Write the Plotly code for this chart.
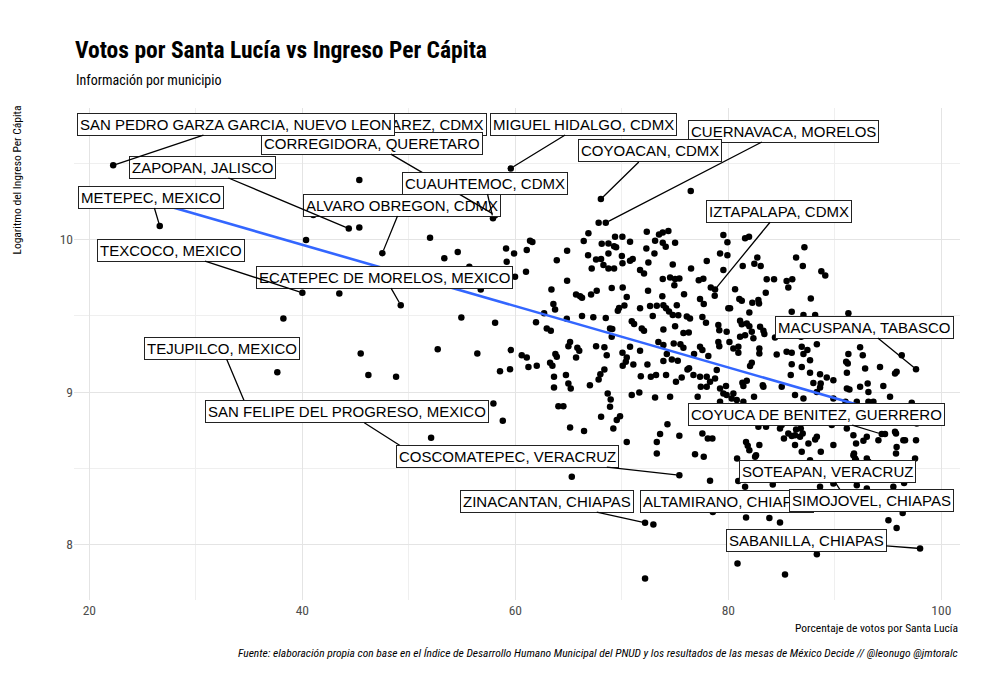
import plotly.graph_objects as go

# ---------------- data ----------------
# percentage of votes for Santa Lucía (x) and log of per-capita income (y)
labeled_names = [
    "BENITO JUAREZ, CDMX", "ALVARO OBREGON, CDMX", "ECATEPEC DE MORELOS, MEXICO",
    "CORREGIDORA, QUERETARO", "CUAUHTEMOC, CDMX", "ZAPOPAN, JALISCO",
    "SAN PEDRO GARZA GARCIA, NUEVO LEON", "MIGUEL HIDALGO, CDMX", "CUERNAVACA, MORELOS",
    "COYOACAN, CDMX", "METEPEC, MEXICO", "IZTAPALAPA, CDMX", "TEXCOCO, MEXICO",
    "MACUSPANA, TABASCO", "TEJUPILCO, MEXICO", "SAN FELIPE DEL PROGRESO, MEXICO",
    "COSCOMATEPEC, VERACRUZ", "COYUCA DE BENITEZ, GUERRERO", "ZINACANTAN, CHIAPAS",
    "ALTAMIRANO, CHIAPAS", "SOTEAPAN, VERACRUZ", "SIMOJOVEL, CHIAPAS", "SABANILLA, CHIAPAS",
]
labeled_votes = [49.2, 47.51, 49.24, 58.1, 57.9, 44.36, 22.24, 59.57, 68.49, 68.03, 26.61,
                 78.75, 40.0, 97.62, 34.91, 50.58, 75.4, 94.4, 72.18, 78.54, 90.94, 94.7, 98.0]
labeled_income = [10.716, 9.911, 9.570, 10.16, 10.14, 10.073, 10.487, 10.467, 10.110, 10.266,
                  10.089, 9.673, 9.651, 9.150, 8.881, 8.586, 8.455, 8.724, 8.142, 8.214, 8.311,
                  8.258, 7.974]

other_votes = [
    45.35, 45.35, 41.03, 40.35, 51.99, 53.33, 54.59, 59.13, 59.88, 59.19, 59.97, 56.75, 55.68,
    43.47, 38.22, 54.93, 58.1, 45.48, 52.71, 56.43, 59.57, 37.65, 46.2, 48.8, 58.56, 59.5,
    57.94, 58.82, 52.09, 76.47, 67.82, 66.86, 66.42, 61.38, 61.6, 61.07, 61.0, 64.86, 63.89,
    64.86, 66.83, 68.11, 68.74, 69.27, 69.46, 69.36, 70.05, 70.77, 72.34, 73.49, 73.84, 74.37,
    73.12, 73.84, 74.12, 75.0, 72.3, 73.06, 68.74, 67.58, 68.05, 70.0, 70.77, 71.02, 70.06,
    68.27, 68.74, 69.27, 67.17, 72.49, 71.71, 72.08, 74.78, 76.5, 77.97, 79.53, 79.91, 79.22,
    79.91, 79.53, 63.39, 63.57, 63.73, 62.7, 65.7, 66.08, 66.26, 67.11, 67.64, 69.05, 70.08,
    70.46, 70.24, 69.74, 69.62, 72.46, 73.8, 71.71, 72.65, 73.28, 73.9, 74.15, 74.43, 74.78,
    75.3, 75.16, 72.9, 73.84, 74.53, 75.0, 75.4, 74.93, 75.84, 77.34, 77.69, 77.22, 77.65,
    78.35, 78.72, 80.0, 76.1, 76.4, 77.56, 77.9, 76.28, 66.26, 67.32, 68.49, 64.83, 61.94,
    62.95, 63.33, 68.89, 69.1, 69.05, 70.93, 71.15, 71.87, 72.08, 73.9, 75.0, 75.78, 79.06,
    79.15, 79.84, 74.87, 75.5, 73.9, 73.43, 75.78, 77.34, 77.56, 79.06, 79.15, 76.78, 78.12,
    74.22, 74.69, 73.9, 71.71, 70.77, 70.06, 70.46, 70.37, 71.08, 68.58, 68.36, 67.58, 65.14,
    64.98, 65.82, 66.0, 63.76, 63.89, 63.26, 63.48, 65.7, 60.6, 61.07, 62.01, 61.23, 70.08,
    72.4, 75.25, 76.31, 81.57, 81.94, 81.35, 82.44, 82.72, 83.04, 87.14, 86.36, 86.99, 88.73,
    89.1, 83.6, 84.29, 85.47, 86.0, 85.63, 80.63, 83.51, 87.74, 81.03, 81.26, 82.25, 82.82,
    82.88, 80.16, 81.97, 85.95, 81.1, 81.26, 81.73, 81.97, 82.98, 83.29, 83.38, 87.05, 88.15,
    86.83, 91.27, 81.1, 81.57, 82.2, 80.1, 80.47, 80.94, 80.94, 82.35, 82.91, 82.91, 84.38,
    88.31, 86.89, 87.42, 87.05, 85.47, 85.95, 84.54, 87.67, 85.95, 86.89, 82.2, 82.04, 92.37,
    92.62, 91.27, 91.06, 91.21, 96.28, 94.24, 92.84, 97.62, 91.13, 95.65, 95.8, 93.08, 92.37,
    91.13, 91.37, 94.55, 95.18, 97.22, 97.69, 97.62, 97.53, 95.65, 95.74, 96.43, 96.59, 95.8,
    95.74, 94.71, 94.09, 93.0, 92.68, 91.99, 91.74, 91.12, 89.71, 89.86, 88.68, 91.8, 91.9,
    88.31, 88.15, 87.52, 86.89, 86.26, 85.63, 85.95, 86.26, 86.73, 86.98, 86.8, 86.36, 85.22,
    84.85, 85.01, 82.82, 83.54, 81.66, 81.82, 81.97, 82.91, 82.6, 82.51, 80.82, 77.56, 78.07,
    78.5, 76.87, 77.69, 75.4, 74.28, 73.59, 73.28, 73.28, 70.46, 65.14, 66.45, 69.2, 69.52,
    69.83, 68.05, 68.89, 68.95, 68.67, 64.04, 64.51, 65.3, 67.82, 67.98, 68.36, 67.0, 64.98,
    65.2, 63.63, 63.63, 64.75, 71.78, 72.72, 73.21, 74.15, 73.12, 74.53, 70.93, 76.16, 76.72,
    77.34, 77.97, 78.75, 77.12, 79.22, 79.78, 80.47, 80.31, 81.41, 81.73, 81.32, 82.41, 83.29,
    83.23, 80.79, 81.41, 85.01, 85.86, 86.26, 87.05, 87.98, 88.61, 88.67, 89.86, 75.08, 75.62,
    78.28, 78.91, 71.64, 77.41, 77.97, 79.22, 79.53, 79.84, 78.28, 72.96, 80.93, 81.57, 84.17,
    87.67, 88.61, 89.86, 91.74, 91.99, 93.0, 93.15, 92.06, 93.0, 95.49, 96.5, 95.03, 95.8,
    96.37, 88.31, 81.66, 83.85, 84.85, 80.86, 85.32, 72.18, 87.67, 88.61, 89.24, 89.86, 88.31,
    93.15, 92.06, 93.15, 93.62, 91.0,
]
other_income = [
    10.080, 10.39, 10.161, 9.997, 10.012, 9.877, 9.918, 9.942, 9.909, 9.854, 9.756, 9.673, 9.822,
    9.647, 9.483, 9.489, 9.454, 9.253, 9.280, 9.253, 9.275, 9.129, 9.111, 9.100, 9.137, 9.150,
    8.925, 8.811, 8.700, 10.318, 10.110, 10.041, 9.990, 9.992, 9.984, 9.931, 9.789, 9.927, 9.865,
    9.730, 9.898, 9.972, 9.975, 9.957, 9.949, 10.018, 10.018, 9.986, 10.051, 10.034, 10.047, 10.056,
    9.992, 9.979, 9.953, 9.979, 9.942, 9.909, 9.909, 9.870, 9.872, 9.892, 9.861, 9.872, 9.844,
    9.833, 9.811, 9.811, 9.811, 9.850, 9.800, 9.778, 9.837, 9.811, 9.859, 10.030, 9.982, 9.909,
    9.898, 9.800, 9.673, 9.577, 9.542, 9.516, 9.640, 9.629, 9.618, 9.640, 9.664, 9.682, 9.686,
    9.623, 9.568, 9.551, 9.533, 9.664, 9.629, 9.549, 9.564, 9.566, 9.570, 9.549, 9.529, 9.505,
    9.503, 9.570, 9.498, 9.741, 9.752, 9.741, 9.745, 9.701, 9.642, 9.610, 9.577, 9.734, 9.743,
    9.686, 9.631, 9.549, 9.496, 9.483, 9.493, 9.454, 9.391, 9.498, 9.491, 9.485, 9.480, 9.457,
    9.417, 9.402, 9.417, 9.413, 9.363, 9.465, 9.446, 9.417, 9.402, 9.411, 9.432, 9.388, 9.439,
    9.406, 9.395, 9.319, 9.314, 9.308, 9.329, 9.290, 9.297, 9.275, 9.329, 9.301, 9.249, 9.236,
    9.249, 9.214, 9.203, 9.270, 9.297, 9.257, 9.227, 9.198, 9.181, 9.242, 9.293, 9.301, 9.329,
    9.301, 9.290, 9.270, 9.249, 9.231, 9.192, 9.172, 9.227, 9.242, 9.227, 9.172, 9.165, 9.172,
    9.181, 9.205, 9.156, 10.008, 10.018, 9.826, 9.841, 9.883, 9.826, 9.949, 9.883, 9.826, 9.793,
    9.765, 9.739, 9.739, 9.728, 9.739, 9.686, 9.675, 9.651, 9.614, 9.610, 9.598, 9.585, 9.603,
    9.581, 9.549, 9.522, 9.526, 9.467, 9.444, 9.450, 9.432, 9.428, 9.402, 9.380, 9.505, 9.505,
    9.363, 9.516, 9.363, 9.373, 9.395, 9.329, 9.286, 9.297, 9.257, 9.352, 9.286, 9.253, 9.358,
    9.314, 9.297, 9.275, 9.249, 9.264, 9.257, 9.247, 9.209, 9.183, 9.165, 9.192, 9.170, 9.293,
    9.242, 9.249, 9.198, 9.188, 9.242, 9.165, 9.155, 9.373, 9.126, 9.122, 9.133, 9.056, 9.034,
    9.024, 9.017, 9.039, 8.969, 8.930, 8.794, 8.684, 8.564, 8.739, 8.728, 8.684, 8.684, 8.640,
    8.597, 8.724, 8.684, 8.706, 8.680, 8.663, 8.717, 8.761, 8.783, 8.652, 8.608, 8.597, 8.564,
    8.706, 8.689, 8.663, 8.608, 8.652, 8.728, 8.711, 8.717, 8.706, 8.728, 8.761, 8.754, 8.696,
    8.761, 8.783, 8.772, 8.772, 8.673, 8.647, 8.619, 8.652, 8.586, 8.575, 8.564, 8.728, 8.696,
    8.696, 8.592, 8.575, 8.713, 8.789, 8.724, 8.673, 8.597, 8.673, 8.768, 8.745, 8.761, 8.816,
    8.842, 8.838, 8.903, 8.951, 8.991, 8.907, 8.907, 8.444, 9.083, 9.117, 9.148, 9.045, 9.056,
    9.024, 9.030, 9.100, 9.111, 9.104, 9.100, 9.111, 9.111, 8.965, 8.969, 8.980, 9.148, 9.111,
    9.100, 9.100, 9.089, 8.969, 9.024, 9.039, 8.991, 8.958, 9.039, 9.074, 9.061, 8.969, 9.034,
    9.045, 8.947, 8.936, 9.034, 9.111, 8.980, 8.958, 9.060, 9.030, 9.056, 8.958, 9.067, 9.096,
    9.067, 9.144, 8.997, 9.034, 9.034, 8.936, 8.991, 8.980, 8.418, 8.131, 8.417, 8.378, 8.394,
    8.553, 8.378, 8.400, 8.586, 8.553, 8.564, 8.542, 8.389, 8.367, 8.378, 8.404, 8.159, 8.109,
    8.207, 7.936, 8.177, 8.174, 8.144, 7.875, 7.803, 7.777, 9.126, 9.117, 9.096, 9.078, 9.000,
    9.001, 8.936, 8.936, 8.936, 8.936,
]

# linear trend (geom_smooth lm) at the ends of the data range
trend_votes = [22.24, 98.0]
trend_income = [10.323, 8.799]

x_ticks = [20, 40, 60, 80, 100]
y_ticks = [8, 9, 10]

title = "Votos por Santa Lucía vs Ingreso Per Cápita"
subtitle = "Información por municipio"
x_title = "Porcentaje de votos por Santa Lucía"
y_title = "Logaritmo del Ingreso Per Cápita"
caption = ("Fuente: elaboración propia con base en el Índice de Desarrollo Humano Municipal "
           "del PNUD y los resultados de las mesas de México Decide // @leonugo @jmtoralc")

# label box positions (data coordinates of the label centres) and whether a segment is drawn
label_pos = {
    "BENITO JUAREZ, CDMX": (49.0, 10.758, False),
    "ALVARO OBREGON, CDMX": (49.36, 10.226, True),
    "ECATEPEC DE MORELOS, MEXICO": (47.74, 9.754, True),
    "CORREGIDORA, QUERETARO": (46.55, 10.633, True),
    "CUAUHTEMOC, CDMX": (57.15, 10.371, True),
    "ZAPOPAN, JALISCO": (30.6, 10.476, True),
    "SAN PEDRO GARZA GARCIA, NUEVO LEON": (33.79, 10.758, True),
    "MIGUEL HIDALGO, CDMX": (66.36, 10.758, True),
    "CUERNAVACA, MORELOS": (85.14, 10.712, True),
    "COYOACAN, CDMX": (72.65, 10.581, True),
    "METEPEC, MEXICO": (25.8, 10.279, True),
    "IZTAPALAPA, CDMX": (84.76, 10.186, True),
    "TEXCOCO, MEXICO": (27.69, 9.931, True),
    "MACUSPANA, TABASCO": (92.76, 9.426, True),
    "TEJUPILCO, MEXICO": (32.46, 9.288, True),
    "SAN FELIPE DEL PROGRESO, MEXICO": (44.2, 8.871, True),
    "COSCOMATEPEC, VERACRUZ": (59.3, 8.580, True),
    "COYUCA DE BENITEZ, GUERRERO": (88.23, 8.855, True),
    "ZINACANTAN, CHIAPAS": (62.96, 8.284, True),
    "ALTAMIRANO, CHIAPAS": (79.9, 8.284, False),
    "SOTEAPAN, VERACRUZ": (89.34, 8.481, True),
    "SIMOJOVEL, CHIAPAS": (93.48, 8.291, False),
    "SABANILLA, CHIAPAS": (87.29, 8.029, True),
}

# ---------------- figure ----------------
COND = "Liberation Sans Narrow, Roboto Condensed, Arial Narrow, Liberation Sans, sans-serif"
LAB = "Liberation Sans, Arial, Helvetica, sans-serif"

fig = go.Figure()
fig.add_trace(go.Scatter(
    x=other_votes + labeled_votes, y=other_income + labeled_income,
    mode="markers", marker=dict(color="black", size=6.5, line=dict(width=0)),
    hoverinfo="x+y", showlegend=False))
fig.add_trace(go.Scatter(
    x=trend_votes, y=trend_income, mode="lines",
    line=dict(color="#3366FF", width=2.6), showlegend=False, hoverinfo="skip"))

annotations = []
for name, vx, vy in zip(labeled_names, labeled_votes, labeled_income):
    lx, ly, arrow = label_pos[name]
    common = dict(text=name, font=dict(family=LAB, size=15, color="black"),
                  bgcolor="white", bordercolor="#222222", borderwidth=1, borderpad=2,
                  xanchor="center", yanchor="middle")
    if arrow:
        annotations.append(dict(x=vx, y=vy, xref="x", yref="y", axref="x", ayref="y",
                                ax=lx, ay=ly, showarrow=True, arrowhead=0, arrowwidth=1.3,
                                arrowcolor="black", standoff=3, **common))
    else:
        annotations.append(dict(x=lx, y=ly, xref="x", yref="y", showarrow=False, **common))

annotations += [
    dict(text=subtitle, xref="paper", yref="paper", x=0.0, y=1.0569, xanchor="left",
         yanchor="middle", showarrow=False, font=dict(family=COND, size=14, color="black")),
    dict(text=x_title, xref="paper", yref="paper", x=1.0, y=-0.057, xanchor="right",
         yanchor="middle", showarrow=False, font=dict(family=COND, size=11.5, color="black")),
    dict(text=y_title, xref="paper", yref="paper", x=-0.0643, y=1.008, xanchor="center",
         yanchor="top", textangle=-90, showarrow=False,
         font=dict(family=COND, size=11.5, color="black")),
    dict(text="<i>" + caption + "</i>", xref="paper", yref="paper", x=1.0, y=-0.1077,
         xanchor="right", yanchor="middle", showarrow=False,
         font=dict(family=COND, size=11.5, color="black")),
]

grid = "#e4e4e4"
fig.update_layout(
    width=1000, height=700,
    margin=dict(l=74, r=40, t=108, b=100, autoexpand=False),
    paper_bgcolor="white", plot_bgcolor="white",
    title=dict(text="<b>" + title + "</b>", x=0.075, xanchor="left", y=1 - 50 / 700,
               yanchor="middle", font=dict(family=COND, size=23.5, color="black")),
    xaxis=dict(range=[18.56, 101.75], tickvals=x_ticks, showgrid=True, gridcolor=grid,
               gridwidth=1, zeroline=False, showline=False, ticks="",
               tickfont=dict(family=COND, size=13.5, color="#4d4d4d"),
               minor=dict(tickvals=[30, 50, 70, 90], showgrid=True, gridcolor="#efefef",
                          gridwidth=0.7)),
    yaxis=dict(range=[7.636, 10.863], tickvals=y_ticks, showgrid=True, gridcolor=grid,
               gridwidth=1, zeroline=False, showline=False, ticks="",
               tickfont=dict(family=COND, size=13.5, color="#4d4d4d"),
               minor=dict(tickvals=[8.5, 9.5, 10.5], showgrid=True, gridcolor="#efefef",
                          gridwidth=0.7)),
    annotations=annotations,
)

fig.write_html("out.html", config={"displayModeBar": False},
               post_script="document.body.style.margin='0px';")
